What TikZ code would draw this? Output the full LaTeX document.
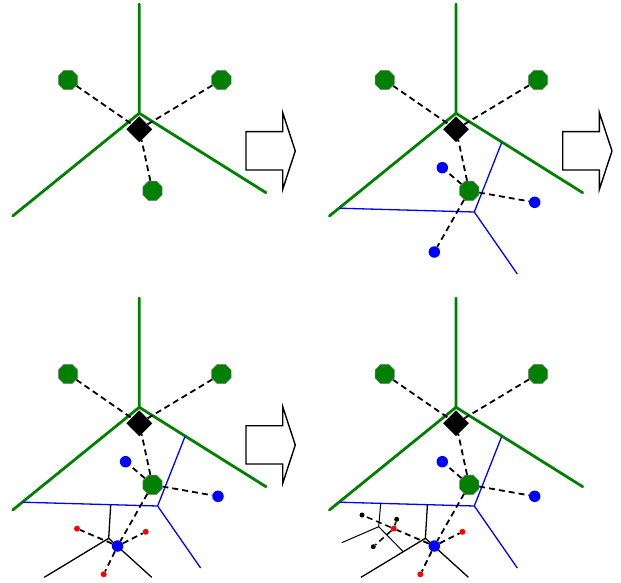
\documentclass[tikz,border=0pt]{standalone}
\usetikzlibrary{shapes.geometric}
\definecolor{dgreen}{RGB}{0,128,0}
\pgfdeclarelayer{bg}
\pgfsetlayers{bg,main}
\tikzset{
  greenline/.style={draw=dgreen, line width=2.8pt, line cap=round},
  blueline/.style={draw=blue, line width=1.3pt},
  blackline/.style={draw=black, line width=1.3pt},
  link/.style={draw=black, line width=1.8pt, dash pattern=on 6pt off 4pt},
  octa/.style={regular polygon, regular polygon sides=8, fill=dgreen, draw=gray, line width=0.5pt, minimum size=21pt, inner sep=0pt},
  hub/.style={diamond, fill=black, minimum width=26pt, minimum height=26pt, inner sep=0pt},
  bdot/.style={circle, fill=blue, minimum size=11.5pt, inner sep=0pt},
  rdot/.style={circle, fill=red, minimum size=6pt, inner sep=0pt},
  kdot/.style={circle, fill=black, minimum size=5pt, inner sep=0pt},
  blockarrow/.style={draw=black, line width=1.4pt, fill=white, line join=miter},
}
\newcommand\basepanel[1]{%
  \coordinate (#1J) at (139.3,113.3);
  \coordinate (#1T) at (139.3,4);
  \coordinate (#1L) at (12.7,216);
  \coordinate (#1R) at (266,192.7);
  \node[hub] (#1D) at (139.3,129.3) {};
  \node[octa] (#1A) at (68,80) {};
  \node[octa] (#1B) at (221.3,80) {};
  \node[octa] (#1C) at (152.5,190.8) {};
  \begin{pgfonlayer}{bg}
    \draw[greenline] (#1J) -- (#1T) (#1J) -- (#1L) (#1J) -- (#1R);
    \draw[link] (#1A) -- (#1D);
    \draw[link] (#1B) -- (#1D);
    \draw[link] (#1C) -- (#1D);
  \end{pgfonlayer}
}
\newcommand\bluepart[1]{%
  \coordinate (#1K) at (157.6,212);
  \coordinate (#1BL) at (22.6,208.2);
  \coordinate (#1BT) at (185,142.5);
  \coordinate (#1BB) at (200.6,274);
  \node[bdot] (#1b1) at (125.6,167.7) {};
  \node[bdot] (#1b2) at (218,202.3) {};
  \node[bdot] (#1b3) at (117.6,252) {};
  \begin{pgfonlayer}{bg}
    \draw[blueline] (#1K) -- (#1BL) (#1K) -- (#1BT) (#1K) -- (#1BB);
    \draw[link] (#1C) -- (#1b1);
    \draw[link] (#1C) -- (#1b2);
    \draw[link] (#1C) -- (#1b3);
  \end{pgfonlayer}
}
\newcommand\blackpart[1]{%
  \coordinate (#1Q) at (108.7,244.3);
  \coordinate (#1Q0) at (110.7,210.9);
  \coordinate (#1QL) at (44.3,283.3);
  \coordinate (#1QR) at (151.7,283.3);
  \node[rdot] (#1r1) at (77,234.6) {};
  \node[rdot] (#1r2) at (145.7,237.8) {};
  \node[rdot] (#1r3) at (103.7,280.3) {};
  \begin{pgfonlayer}{bg}
    \draw[blackline] (#1Q) -- (#1Q0) (#1Q) -- (#1QL) (#1Q) -- (#1QR);
    \draw[link] (#1b3) -- (#1r1);
    \draw[link] (#1b3) -- (#1r2);
    \draw[link] (#1b3) -- (#1r3);
  \end{pgfonlayer}
}
\newcommand\finepart[1]{%
  \coordinate (#1P) at (62,232.7);
  \coordinate (#1P0) at (64,209.6);
  \coordinate (#1PL) at (25,248.7);
  \coordinate (#1PR) at (86.6,257.7);
  \node[kdot] (#1k1) at (45.3,221) {};
  \node[kdot] (#1k2) at (80,225.3) {};
  \node[kdot] (#1k3) at (56.6,252.7) {};
  \begin{pgfonlayer}{bg}
    \draw[blackline, line width=1pt] (#1P) -- (#1P0) (#1P) -- (#1PL) (#1P) -- (#1PR);
    \draw[link, line width=1.5pt] (#1r1) -- (#1k1);
    \draw[link, line width=1.5pt] (#1r1) -- (#1k2);
    \draw[link, line width=1.5pt] (#1r1) -- (#1k3);
  \end{pgfonlayer}
}
\newcommand\stagearrow{%
  \draw[blockarrow] (246,131.7) -- (282.7,131.7) -- (282.7,112.7) -- (295.3,151)
    -- (282.7,189.3) -- (282.7,170) -- (246,170) -- cycle;
}
\begin{document}
\begin{tikzpicture}[x=1pt,y=-1pt]
\useasboundingbox (0,0) rectangle (621,583);
\begin{scope}
  \basepanel{a}
  \stagearrow
\end{scope}
\begin{scope}[shift={(316.7,0)}]
  \basepanel{b}
  \bluepart{b}
  \stagearrow
\end{scope}
\begin{scope}[shift={(0,294)}]
  \basepanel{c}
  \bluepart{c}
  \blackpart{c}
  \stagearrow
\end{scope}
\begin{scope}[shift={(316.7,294)}]
  \basepanel{d}
  \bluepart{d}
  \blackpart{d}
  \finepart{d}
\end{scope}
\end{tikzpicture}
\end{document}
